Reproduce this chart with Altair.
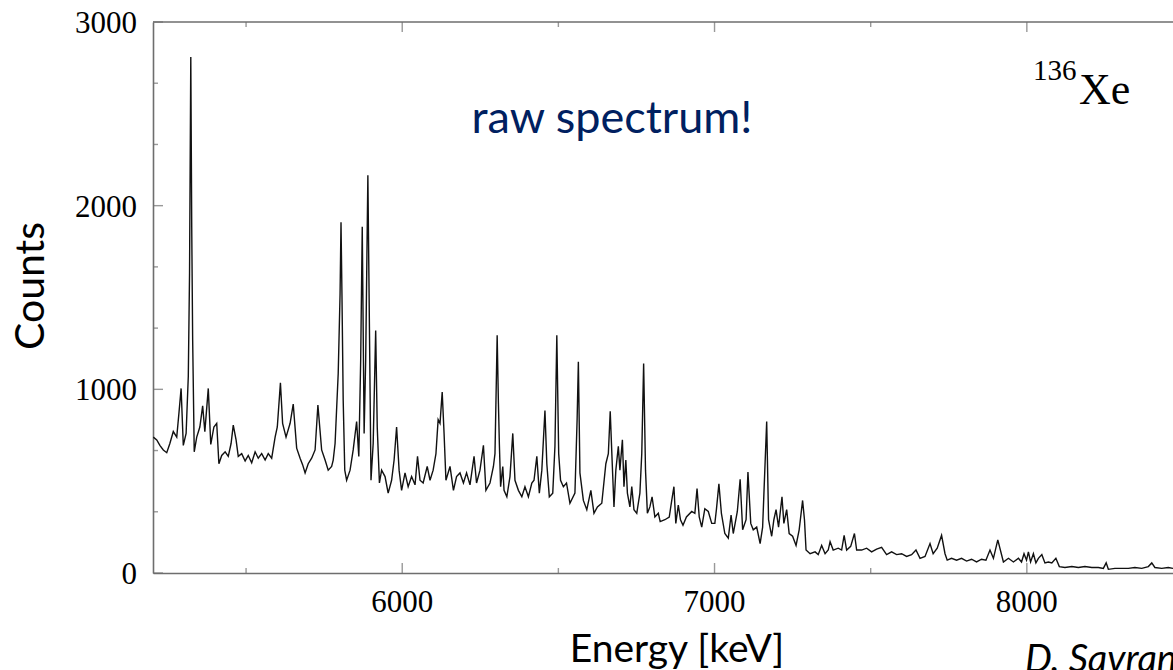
import altair as alt
import pandas as pd

# ---- spectrum (energy in keV, counts) ----
energy_kev = [
    5203, 5214, 5224, 5235, 5246, 5256, 5267, 5278, 5285, 5292, 5299, 5308, 5315, 5319, 5323, 5326, 5329,
    5334, 5342, 5352, 5361, 5368, 5379, 5387, 5397, 5406, 5413, 5422, 5433, 5443, 5452, 5459, 5468, 5475,
    5486, 5497, 5507, 5518, 5529, 5539, 5550, 5561, 5571, 5582, 5593, 5600, 5610, 5617, 5628, 5641, 5651,
    5662, 5673, 5681, 5689, 5699, 5710, 5721, 5730,
    5742, 5753, 5763, 5774, 5779, 5785, 5795, 5801, 5804, 5807, 5811, 5816, 5822, 5833, 5843, 5854, 5861,
    5867, 5872, 5878, 5883, 5890, 5895, 5900, 5907, 5915, 5920, 5927, 5934, 5945, 5955, 5966, 5974, 5982,
    5990, 5998, 6009, 6019, 6030, 6041, 6049, 6057, 6067, 6080, 6089, 6099, 6108, 6115, 6121, 6128, 6134,
    6140, 6153, 6164, 6174, 6185, 6196, 6206, 6217, 6230, 6238, 6249, 6260, 6268,
    6281, 6292, 6297, 6301, 6304, 6308, 6311, 6315, 6322, 6326, 6335, 6345, 6354, 6361, 6372, 6383, 6393,
    6404, 6415, 6422, 6431, 6439, 6447, 6457, 6463, 6471, 6482, 6489, 6495, 6501, 6507, 6516, 6526, 6537,
    6553, 6560, 6564, 6569, 6580, 6591, 6604, 6614, 6625, 6639, 6652, 6660, 6666, 6672, 6678, 6684, 6692,
    6697, 6705, 6710, 6716, 6721, 6729, 6735, 6742, 6751, 6761, 6767, 6773, 6779, 6785, 6793, 6800, 6809,
    6820,
    6826, 6841, 6855, 6863, 6870, 6876, 6884, 6891, 6899, 6910, 6927, 6937, 6944, 6951, 6959, 6969, 6980,
    6991, 7001, 7006, 7014, 7022, 7033, 7044, 7053, 7060, 7073, 7082, 7090, 7101, 7107, 7116, 7124, 7135,
    7146, 7154, 7161, 7167, 7173, 7183, 7190, 7197, 7205, 7216, 7222, 7231, 7239, 7250, 7261, 7271, 7282,
    7288, 7293, 7306, 7322, 7332, 7343, 7354, 7364,
    7370, 7380, 7396, 7407, 7415, 7423, 7436, 7448, 7455, 7471, 7487, 7503, 7519, 7535, 7551, 7567, 7583,
    7599, 7615, 7631, 7645, 7658, 7674, 7690, 7700, 7713, 7727, 7738, 7745, 7759, 7775, 7791, 7807, 7823,
    7839, 7855, 7869, 7882, 7893, 7907,
    7925, 7941, 7957, 7973, 7983, 7991, 7999, 8005, 8012, 8021, 8029, 8037, 8048, 8058, 8069, 8080, 8093,
    8104, 8122, 8144, 8165, 8186, 8208, 8229, 8245, 8254, 8261, 8282, 8304, 8325, 8346, 8368, 8389, 8400,
    8410, 8432, 8453, 8468,
]
counts = [
    740, 725, 695, 670, 655, 705, 770, 740, 870, 1005, 695, 760, 1070, 1630, 2810, 1885, 1270,
    660, 740, 795, 910, 770, 1005, 700, 795, 815, 595, 640, 660, 635, 705, 805, 725, 635,
    650, 610, 640, 600, 660, 625, 650, 615, 650, 625, 740, 795, 1035, 815, 740, 815, 920,
    680, 625, 590, 545, 595, 625, 670, 915,
    670, 615, 560, 580, 615, 705, 1085, 1520, 1910, 1520, 940, 560, 505, 560, 670, 825, 635,
    1160, 1885, 760, 1160, 2165, 1340, 505, 705, 1320, 795, 490, 560, 525, 435, 505, 615, 795,
    560, 450, 545, 470, 525, 480, 635, 505, 490, 580, 505, 560, 650, 835, 815, 985, 760,
    505, 580, 450, 525, 545, 490, 545, 480, 635, 490, 560, 695, 450,
    490, 580, 650, 1015, 1295, 925, 705, 470, 580, 450, 415, 525, 760, 505, 450, 415, 470,
    415, 490, 505, 635, 435, 560, 885, 595, 415, 435, 690, 1295, 650, 505, 470, 490, 380,
    435, 835, 1150, 545, 395, 345, 450, 325, 360, 380, 595, 650, 880, 615, 360, 560, 690,
    560, 725, 470, 615, 435, 360, 470, 345, 325, 435, 650, 1140, 560, 325, 360, 415, 305,
    325,
    280, 290, 305, 395, 470, 270, 370, 290, 260, 305, 335, 325, 460, 305, 250, 350, 335,
    270, 270, 345, 485, 325, 215, 190, 315, 215, 335, 510, 235, 290, 550, 270, 235, 250,
    160, 250, 560, 825, 290, 200, 290, 345, 250, 415, 270, 345, 215, 200, 150, 235, 395,
    290, 125, 105, 115, 100, 150, 105, 125,
    170, 125, 135, 125, 205, 125, 145, 215, 125, 125, 135, 115, 130, 140, 100, 115, 100,
    105, 90, 100, 125, 80, 90, 160, 105, 135, 205, 105, 70, 80, 70, 80, 65, 75,
    60, 75, 70, 125, 80, 180,
    60, 80, 60, 80, 60, 105, 70, 115, 60, 105, 55, 80, 100, 55, 60, 55, 80,
    35, 30, 35, 30, 35, 30, 30, 25, 55, 20, 25, 25, 25, 30, 25, 35, 55,
    30, 25, 30, 25,
]

# ---- axes ----
x_domain = [5202, 8468]
y_domain = [0, 3000]
x_major = [6000, 7000, 8000]
x_minor = [5500, 6500, 7500]
y_major = [0, 1000, 2000, 3000]
y_minor = [333.3, 666.7, 1333.3, 1666.7, 2333.3, 2666.7]

W, H = 1020, 551
AXIS_GRAY = "#6e6e6e"
SERIF = "Liberation Serif"
SANS = "Lato"

spec = pd.DataFrame({"E": energy_kev, "C": counts})
xs = alt.Scale(domain=x_domain, nice=False, zero=False)
ys = alt.Scale(domain=y_domain, nice=False, zero=True)

frame_axis = alt.Axis(labels=False, ticks=False, grid=False, title=None,
                      domainColor=AXIS_GRAY, domainWidth=1.6)

line = alt.Chart(spec).mark_line(color="#111111", strokeWidth=1.4).encode(
    x=alt.X("E:Q", scale=xs, axis=frame_axis),
    y=alt.Y("C:Q", scale=ys, axis=frame_axis),
)

xt_major = pd.DataFrame({"E": x_major, "lab": [str(v) for v in x_major]})
xt_minor = pd.DataFrame({"E": x_minor})
yt_major = pd.DataFrame({"C": y_major, "lab": [str(v) for v in y_major]})
yt_minor = pd.DataFrame({"C": y_minor})

# top frame edge
top_edge = alt.Chart(pd.DataFrame({"E": [x_domain[0]], "E2": [x_domain[1]]})).mark_rule(
    color=AXIS_GRAY, strokeWidth=1.6).encode(
    x=alt.X("E:Q", scale=xs), x2="E2:Q", y=alt.value(0))

def vticks(df, size, y):
    return alt.Chart(df).mark_tick(orient="vertical", color=AXIS_GRAY, size=size, thickness=1.4).encode(
        x=alt.X("E:Q", scale=xs), y=alt.value(y))

def hticks(df, size, x):
    return alt.Chart(df).mark_tick(orient="horizontal", color=AXIS_GRAY, size=size, thickness=1.4).encode(
        y=alt.Y("C:Q", scale=ys), x=alt.value(x))

top_major = vticks(xt_major, 10, 5)
top_minor = vticks(xt_minor, 5, 2.5)
bot_major = vticks(xt_major, 10, H - 5)
bot_minor = vticks(xt_minor, 5, H - 2.5)
left_major = hticks(yt_major, 10, 5)
left_minor = hticks(yt_minor, 5, 2.5)

# tick labels (serif, like the original plot)
x_labels = alt.Chart(xt_major).mark_text(font=SERIF, fontSize=31, color="black", align="center",
                                         baseline="alphabetic").encode(
    x=alt.X("E:Q", scale=xs), y=alt.value(H + 39), text="lab:N")
y_labels = alt.Chart(yt_major).mark_text(font=SERIF, fontSize=31, color="black", align="right",
                                         baseline="alphabetic", dy=11).encode(
    y=alt.Y("C:Q", scale=ys), x=alt.value(-16), text="lab:N")

def label(text, x, y, size, font, color="black", align="left", angle=0, baseline="alphabetic", style="normal"):
    return alt.Chart(pd.DataFrame({"t": [text]})).mark_text(
        font=font, fontSize=size, color=color, align=align, baseline=baseline,
        angle=angle, fontStyle=style,
    ).encode(text="t:N", x=alt.value(x), y=alt.value(y))

t_raw = label("raw spectrum!", 459, 111, 45, SANS, color="#002060", align="center")
t_136 = label("136", 880, 58, 29, SERIF)
t_xe = label("Xe", 926, 82, 44, SERIF)
t_energy = label("Energy [keV]", 524, 640, 39, SANS, align="center")
t_counts = label("Counts", -121, 264, 41, SANS, align="center", angle=270, baseline="middle")
t_cite = label("D. Savran et al.", 872, 650, 38, SANS, style="italic")

chart = alt.layer(
    line, top_edge, top_major, top_minor, bot_major, bot_minor, left_major, left_minor,
    x_labels, y_labels, t_raw, t_136, t_xe, t_energy, t_counts, t_cite,
).properties(
    width=W, height=H,
    background="white",
    autosize=alt.AutoSizeParams(type="none"),
    padding={"left": 153, "top": 22, "right": 0, "bottom": 97},
).configure_view(stroke=None)

chart.save("out.html", embed_options={"renderer": "svg", "actions": False})
